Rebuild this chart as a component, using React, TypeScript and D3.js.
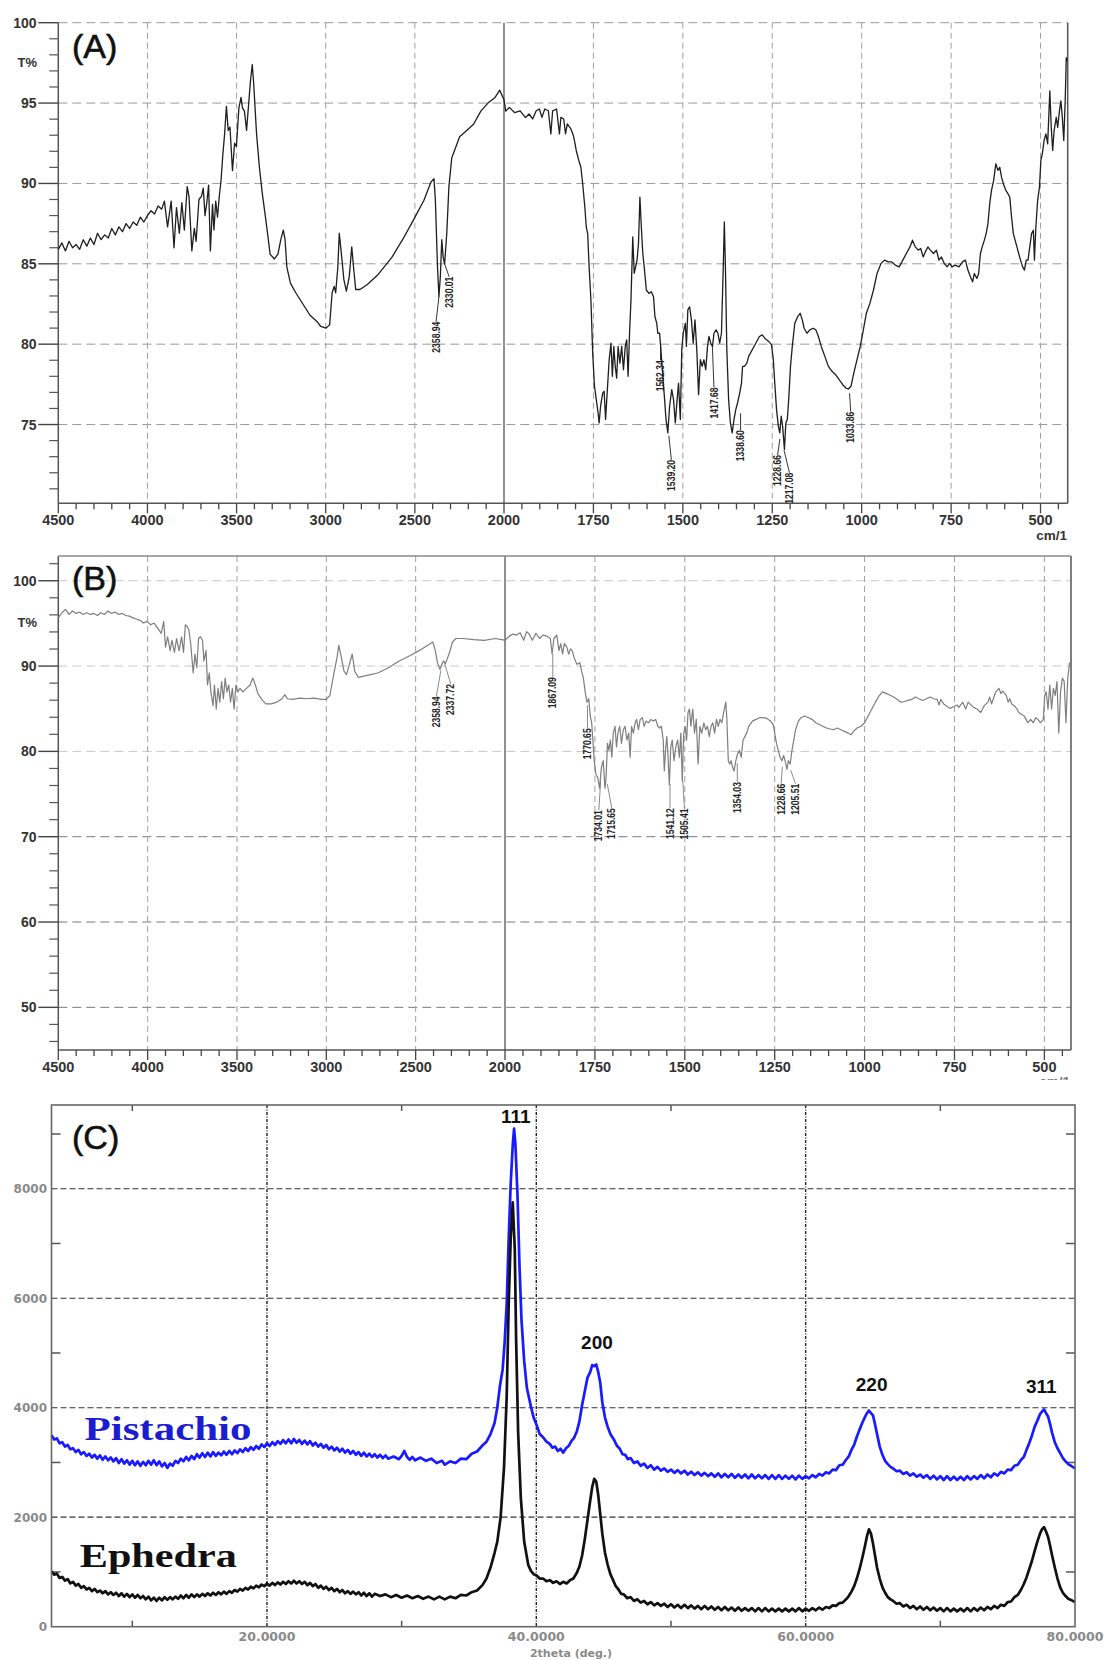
import React, { useEffect, useRef } from 'react';
import * as d3 from 'd3';

// ---------- data ----------

// FTIR (A): wavenumber (cm-1), transmittance (%)
const ftirA = [
  [4500, 85.9], [4480, 86.3], [4460, 85.8], [4440, 86.4], [4420, 86.0], [4400, 86.2], [4380, 85.9], [4360, 86.5],
  [4340, 86.1], [4320, 86.6], [4300, 86.2], [4280, 86.9], [4260, 86.5], [4240, 86.8], [4220, 86.6], [4200, 87.2],
  [4180, 86.8], [4160, 87.3], [4140, 87.0], [4120, 87.5], [4100, 87.2], [4080, 87.6], [4060, 87.4], [4040, 87.9],
  [4020, 87.6], [4000, 88.0], [3980, 88.3], [3960, 88.1], [3940, 88.6], [3920, 88.4], [3905, 88.9],
  [3887, 87.3], [3867, 88.9], [3851, 86.0], [3837, 88.5], [3821, 86.9], [3807, 88.8], [3793, 87.1], [3777, 89.8],
  [3767, 89.2], [3751, 85.8], [3737, 87.2], [3727, 86.4], [3711, 89.0], [3697, 89.2], [3687, 89.7], [3677, 88.0],
  [3667, 88.8], [3657, 89.9], [3647, 85.8], [3635, 88.7], [3627, 87.1], [3617, 88.9], [3607, 87.9], [3597, 89.2],
  [3587, 90.2], [3577, 91.8], [3567, 93.1], [3557, 94.8], [3547, 93.3], [3537, 93.5], [3523, 90.8], [3511, 92.5],
  [3501, 92.3], [3487, 94.7], [3475, 95.35], [3467, 94.7], [3456, 94.5], [3444, 93.3], [3434, 94.7], [3422, 96.4],
  [3412, 97.4], [3404, 96.2], [3388, 93.1], [3372, 91.0], [3356, 89.4], [3338, 87.9], [3324, 86.7], [3312, 85.6],
  [3288, 85.3], [3268, 85.6], [3252, 86.5], [3238, 87.1], [3228, 86.5], [3218, 84.8], [3198, 83.8], [3168, 83.2],
  [3128, 82.5], [3088, 81.8], [3048, 81.4], [3028, 81.1], [2998, 81.0], [2978, 81.2], [2964, 83.2], [2952, 83.6],
  [2944, 83.2], [2932, 84.8], [2924, 86.9], [2912, 85.6], [2898, 84.0], [2884, 83.3], [2868, 84.2], [2854, 86.05],
  [2844, 84.8], [2832, 83.4], [2808, 83.4], [2768, 83.7], [2709, 84.3], [2629, 85.4], [2569, 86.5], [2509, 87.7],
  [2449, 88.95], [2409, 90.1], [2393, 90.3], [2385, 89.0], [2373, 84.8], [2365, 82.95], [2357, 84.2], [2349, 86.5],
  [2341, 85.4], [2333, 85.0], [2321, 86.9], [2309, 89.8], [2293, 91.6], [2279, 92.0], [2249, 92.9], [2209, 93.3],
  [2170, 93.7], [2130, 94.5], [2090, 95.0], [2050, 95.35], [2024, 95.8], [2000, 95.2],
  [1995, 94.5], [1985, 94.73], [1970, 94.4], [1955, 94.52], [1940, 94.1], [1930, 94.32], [1920, 94.01], [1910, 94.52],
  [1901, 94.63], [1894, 94.11], [1886, 94.63], [1876, 94.52], [1869, 93.08], [1864, 94.52], [1853, 94.63], [1845, 93.08],
  [1841, 94.11], [1833, 94.01], [1828, 93.08], [1823, 93.7], [1813, 93.39], [1806, 92.98], [1803, 92.67], [1798, 92.05],
  [1791, 91.43], [1785, 91.01], [1780, 89.98], [1774, 88.53], [1770, 87.29], [1766, 86.88], [1762, 84.81], [1757, 82.75],
  [1752, 79.44], [1747, 77.38], [1742, 76.55], [1737, 75.72], [1734, 75.1], [1730, 76.14], [1724, 76.96], [1720, 77.07],
  [1716, 75.31], [1711, 77.17], [1706, 79.03], [1701, 80.06], [1697, 78.0], [1693, 79.86], [1689, 78.62], [1685, 77.89],
  [1681, 79.86], [1676, 78.82], [1671, 79.86], [1666, 78.41], [1661, 79.86], [1657, 80.27], [1653, 78.0], [1649, 80.68],
  [1645, 82.75], [1640, 86.67], [1636, 84.4], [1632, 84.81], [1628, 85.23], [1624, 86.26], [1620, 89.15], [1617, 87.71],
  [1612, 85.64], [1608, 84.81], [1602, 83.37], [1595, 83.16], [1588, 83.26], [1582, 82.95], [1578, 81.71], [1573, 81.3],
  [1570, 80.68], [1565, 80.68], [1562, 79.86], [1558, 78.62], [1551, 76.55], [1547, 75.31], [1542, 74.48], [1537, 76.14],
  [1531, 77.17], [1526, 76.55], [1521, 75.1], [1516, 76.55], [1512, 77.58], [1507, 75.31], [1503, 79.65], [1499, 80.68],
  [1493, 81.3], [1490, 79.86], [1486, 82.13], [1481, 82.33], [1476, 81.51], [1471, 80.06], [1466, 81.51], [1461, 79.65],
  [1456, 76.86], [1451, 79.03], [1446, 78.62], [1441, 79.03], [1436, 78.41], [1431, 79.86], [1427, 80.48], [1422, 80.06],
  [1417, 79.86], [1413, 80.68], [1407, 80.89], [1402, 80.68], [1397, 80.06], [1392, 80.68], [1387, 84.81], [1384, 87.6],
  [1381, 84.81], [1377, 79.65], [1372, 76.55], [1367, 75.1], [1362, 74.48], [1357, 75.31], [1352, 75.93], [1347, 76.34],
  [1341, 76.96], [1336, 77.58], [1333, 78.62], [1328, 78.62], [1321, 78.82], [1316, 79.24], [1306, 79.65], [1296, 80.06],
  [1286, 80.48], [1278, 80.58], [1271, 80.37], [1260, 80.17], [1252, 79.96], [1247, 79.03], [1243, 77.58], [1238, 75.93],
  [1233, 74.9], [1229, 74.48], [1225, 75.52], [1221, 74.9], [1216, 73.45], [1212, 75.1], [1208, 75.31], [1204, 76.55],
  [1199, 78.62], [1194, 79.86], [1187, 81.3], [1179, 81.71], [1172, 81.92], [1166, 81.51], [1161, 80.99], [1153, 80.68],
  [1145, 80.89], [1136, 80.99], [1128, 80.89], [1121, 80.48], [1113, 79.86], [1103, 79.24], [1093, 78.62], [1083, 78.31],
  [1073, 78.1], [1063, 77.79], [1053, 77.48], [1044, 77.27], [1037, 77.21], [1030, 77.38], [1022, 78.2], [1012, 79.13],
  [1004, 79.86], [997, 80.68], [987, 81.92], [977, 82.54], [967, 83.37], [957, 84.4], [946, 85.02], [936, 85.23],
  [926, 85.12], [916, 85.12], [906, 84.92], [895, 84.81], [885, 85.23], [875, 85.64], [865, 86.05], [858, 86.47],
  [850, 86.05], [842, 85.85], [835, 85.95], [828, 85.43], [822, 85.74], [815, 86.05], [808, 85.85], [799, 85.64],
  [791, 85.85], [784, 85.23], [777, 85.43], [769, 85.02], [761, 84.81], [754, 85.02], [747, 84.81], [739, 84.92],
  [728, 84.81], [718, 85.12], [710, 85.23], [703, 84.61], [696, 84.19], [690, 83.88], [685, 84.4], [678, 84.09],
  [673, 84.4], [668, 85.64], [663, 86.05], [657, 86.47], [652, 86.88], [647, 87.5], [642, 88.74], [637, 89.57],
  [631, 90.19], [625, 91.22], [619, 90.81], [614, 91.01], [609, 90.39], [604, 89.98], [597, 89.57], [591, 89.36],
  [586, 89.15], [581, 87.91], [576, 86.88], [571, 86.47], [566, 86.05], [561, 85.64], [556, 85.23], [550, 84.81],
  [545, 84.61], [540, 85.23], [535, 85.23], [530, 86.05], [525, 86.88], [520, 87.09], [517, 85.23], [513, 87.29],
  [508, 88.95], [503, 89.77], [499, 91.43], [495, 91.84], [490, 92.67], [485, 93.08], [480, 92.46], [474, 95.76],
  [470, 93.49], [466, 92.05], [462, 93.29], [456, 94.11], [452, 93.49], [447, 94.52], [443, 95.14], [439, 94.11],
  [435, 92.67], [431, 95.14], [428, 97.83], [425, 97.62],
];

// FTIR (B): wavenumber (cm-1), transmittance (%)
const ftirB = [
  [4500, 95.65], [4480, 96.25], [4460, 96.65], [4440, 96.05], [4421, 96.45], [4401, 96.17], [4381, 96.33], [4361, 96.05],
  [4341, 96.25], [4321, 96.05], [4301, 96.17], [4281, 95.93], [4262, 96.25], [4242, 96.05], [4222, 96.45], [4202, 96.17],
  [4182, 96.33], [4162, 96.05], [4142, 96.17], [4122, 95.93], [4103, 95.85], [4083, 95.65], [4063, 95.52], [4043, 95.36],
  [4023, 95.04], [4003, 95.24], [3983, 94.84], [3964, 95.04], [3944, 94.44], [3924, 93.83], [3910, 95.24], [3900, 92.22],
  [3888, 93.43], [3874, 91.81], [3864, 93.02], [3850, 91.61], [3838, 93.23], [3824, 91.81], [3810, 93.43], [3799, 91.61],
  [3789, 94.84], [3779, 94.64], [3769, 94.23], [3759, 92.62], [3745, 89.19], [3735, 91.41], [3725, 89.8], [3715, 93.23],
  [3705, 93.43], [3693, 93.02], [3685, 90.6], [3673, 91.81], [3665, 87.78], [3655, 89.19], [3646, 86.98], [3634, 85.36],
  [3626, 87.78], [3616, 84.96], [3606, 87.38], [3596, 85.77], [3586, 88.19], [3576, 86.17], [3566, 88.59], [3556, 86.98],
  [3546, 87.78], [3536, 85.77], [3526, 87.38], [3516, 84.96], [3506, 87.78], [3496, 86.98], [3483, 87.38], [3467, 86.98],
  [3447, 87.38], [3427, 87.78], [3411, 88.59], [3397, 87.78], [3383, 86.77], [3357, 85.97], [3338, 85.56], [3308, 85.56],
  [3278, 85.77], [3248, 86.17], [3232, 86.65], [3218, 86.17], [3189, 86.09], [3149, 86.25], [3109, 86.17], [3069, 86.25],
  [3030, 86.09], [3000, 86.09], [2980, 86.57], [2966, 88.19], [2955, 89.4], [2940, 91.01], [2930, 92.42], [2916, 91.01],
  [2901, 89.4], [2887, 88.99], [2871, 90.2], [2855, 91.41], [2841, 89.4], [2821, 88.67], [2771, 88.91], [2712, 89.19],
  [2652, 89.8], [2592, 90.6], [2533, 91.21], [2473, 91.9], [2434, 92.42], [2404, 92.82], [2390, 91.81], [2378, 90.4],
  [2364, 89.6], [2354, 90.2], [2344, 90.6], [2334, 90.28], [2324, 90.81], [2310, 91.61], [2294, 92.82], [2274, 93.23],
  [2235, 93.23], [2175, 93.1], [2115, 93.02], [2056, 93.23], [2016, 93.1], [2000, 93.02],
  [1988, 93.51], [1978, 93.75], [1968, 93.63], [1958, 93.91], [1948, 93.02], [1940, 94.03], [1934, 93.83], [1924, 93.02],
  [1914, 93.83], [1904, 93.23], [1894, 93.63], [1884, 93.51], [1874, 93.23], [1869, 91.41], [1864, 93.23], [1856, 93.63],
  [1850, 91.81], [1845, 92.62], [1840, 91.41], [1835, 92.62], [1828, 92.22], [1823, 91.41], [1818, 92.02], [1813, 91.81],
  [1808, 91.01], [1800, 90.2], [1792, 90.4], [1787, 89.4], [1782, 88.59], [1777, 86.98], [1772, 85.77], [1767, 86.17],
  [1763, 84.15], [1759, 83.35], [1755, 80.93], [1752, 78.91], [1747, 77.3], [1742, 76.9], [1737, 75.69], [1732, 78.1],
  [1727, 78.91], [1722, 75.69], [1719, 76.9], [1715, 80.93], [1711, 80.12], [1707, 81.33], [1703, 79.31], [1699, 82.14],
  [1694, 82.94], [1690, 80.52], [1686, 82.14], [1681, 82.94], [1676, 80.93], [1671, 82.54], [1666, 82.94], [1661, 81.33],
  [1656, 82.14], [1652, 79.31], [1648, 82.94], [1643, 82.14], [1638, 83.35], [1634, 83.75], [1629, 82.54], [1624, 83.75],
  [1618, 83.95], [1613, 82.94], [1608, 83.55], [1601, 83.35], [1594, 83.75], [1588, 83.55], [1581, 83.75], [1575, 82.94],
  [1570, 82.74], [1565, 82.94], [1560, 81.33], [1557, 77.7], [1553, 80.52], [1550, 81.73], [1547, 79.72], [1543, 76.09],
  [1539, 80.52], [1535, 81.33], [1530, 78.91], [1525, 80.52], [1520, 81.33], [1515, 79.31], [1511, 82.14], [1507, 76.49],
  [1503, 82.14], [1499, 82.94], [1495, 81.33], [1491, 84.56], [1487, 84.96], [1483, 82.94], [1478, 84.96], [1473, 82.14],
  [1468, 83.75], [1463, 78.51], [1458, 82.94], [1453, 82.14], [1447, 83.35], [1442, 82.54], [1437, 82.94], [1432, 81.73],
  [1427, 82.94], [1422, 83.35], [1417, 82.14], [1412, 83.75], [1407, 82.94], [1402, 83.75], [1397, 83.35], [1392, 84.56],
  [1386, 85.77], [1383, 83.75], [1379, 78.91], [1375, 78.51], [1371, 78.91], [1367, 78.1], [1363, 77.7], [1358, 78.91],
  [1353, 79.72], [1348, 80.12], [1343, 79.31], [1338, 81.33], [1333, 81.73], [1328, 82.14], [1322, 82.94], [1312, 83.55],
  [1302, 83.75], [1292, 83.95], [1282, 83.95], [1272, 83.87], [1262, 83.55], [1254, 83.15], [1250, 82.14], [1245, 80.93],
  [1240, 80.12], [1235, 79.31], [1230, 78.91], [1225, 79.52], [1220, 78.71], [1216, 77.9], [1212, 78.91], [1207, 78.51],
  [1202, 80.12], [1197, 81.33], [1192, 82.54], [1184, 83.55], [1177, 83.95], [1167, 84.15], [1156, 83.95], [1146, 83.75],
  [1136, 83.35], [1126, 83.15], [1116, 82.94], [1106, 82.74], [1096, 82.62], [1086, 82.54], [1076, 82.74], [1066, 82.54],
  [1056, 82.34], [1045, 82.14], [1038, 81.94], [1031, 82.34], [1021, 82.74], [1010, 82.94], [1000, 83.35], [990, 84.15],
  [980, 84.96], [970, 85.77], [960, 86.49], [950, 86.98], [939, 86.77], [929, 86.57], [919, 86.37], [909, 86.09],
  [899, 85.77], [889, 85.85], [879, 85.97], [869, 86.09], [859, 86.37], [849, 86.17], [838, 85.97], [828, 86.17],
  [818, 86.37], [808, 86.17], [798, 86.09], [793, 85.44], [788, 86.09], [780, 85.56], [773, 85.36], [763, 85.04],
  [753, 85.24], [743, 85.44], [738, 85.16], [727, 85.77], [719, 84.96], [712, 85.77], [707, 85.56], [697, 85.16],
  [687, 84.96], [677, 84.56], [672, 84.96], [667, 85.36], [657, 85.77], [652, 86.37], [647, 85.56], [642, 86.17],
  [635, 86.98], [626, 87.38], [621, 86.77], [616, 87.06], [606, 86.57], [601, 85.77], [596, 86.17], [591, 85.56],
  [584, 85.36], [576, 84.96], [571, 84.56], [564, 84.35], [556, 84.15], [551, 83.75], [546, 83.35], [538, 83.75],
  [531, 83.35], [524, 83.95], [518, 83.75], [511, 83.35], [503, 83.75], [499, 86.57], [495, 86.98], [490, 84.96],
  [485, 87.78], [480, 84.96], [475, 87.38], [470, 86.57], [465, 88.19], [460, 82.14], [455, 86.98], [450, 88.59],
  [445, 88.19], [440, 83.35], [435, 88.59], [430, 90.4],
];

// peak labels: label wavenumber, where the leader leaves the trace, where the text sits
const peaksA = [
  { label: '2358.94', wn: 2365, tLine: 82.95, labelWn: 2381, tText: 81.4 },
  { label: '2330.01', wn: 2333, tLine: 85.0, labelWn: 2308, tText: 84.2 },
  { label: '1562.34', wn: 1562.34, tLine: 79.9, labelWn: 1562.34, tText: 79.0 },
  { label: '1539.20', wn: 1539.2, tLine: 74.3, labelWn: 1532, tText: 72.8 },
  { label: '1417.68', wn: 1417.68, tLine: 80.0, labelWn: 1413, tText: 77.3 },
  { label: '1338.60', wn: 1338.6, tLine: 75.7, labelWn: 1338.6, tText: 74.65 },
  { label: '1228.66', wn: 1228.66, tLine: 74.1, labelWn: 1235, tText: 73.1 },
  { label: '1217.08', wn: 1217.08, tLine: 73.4, labelWn: 1202, tText: 72.0 },
  { label: '1033.86', wn: 1033.86, tLine: 76.95, labelWn: 1030.7, tText: 75.8 },
];

const peaksB = [
  { label: '2358.94', wn: 2358.94, tLine: 89.5, labelWn: 2384, tText: 86.45 },
  { label: '2337.72', wn: 2337.72, tLine: 90.3, labelWn: 2304, tText: 87.9 },
  { label: '1867.09', wn: 1867.09, tLine: 91.4, labelWn: 1867.09, tText: 88.7 },
  { label: '1770.65', wn: 1770.65, tLine: 85.4, labelWn: 1770.65, tText: 82.7 },
  { label: '1734.01', wn: 1734.01, tLine: 76.6, labelWn: 1739, tText: 73.1 },
  { label: '1715.65', wn: 1715.65, tLine: 76.2, labelWn: 1703, tText: 73.35 },
  { label: '1541.12', wn: 1541.12, tLine: 76.2, labelWn: 1541.12, tText: 73.35 },
  { label: '1505.41', wn: 1505.41, tLine: 76.5, labelWn: 1501, tText: 73.3 },
  { label: '1354.03', wn: 1354.03, tLine: 78.6, labelWn: 1354.03, tText: 76.4 },
  { label: '1228.66', wn: 1228.66, tLine: 78.2, labelWn: 1232, tText: 76.2 },
  { label: '1205.51', wn: 1205.51, tLine: 77.8, labelWn: 1192, tText: 76.2 },
];

const ftirMajorX = [4500, 4000, 3500, 3000, 2500, 2000, 1750, 1500, 1250, 1000, 750, 500];
const ftirYMajorA = [75, 80, 85, 90, 95, 100];
const ftirYMajorB = [50, 60, 70, 80, 90, 100];

// XRD (C): 2theta (deg), counts
const xrdPistachio = [
  [4.0, 3500], [4.2, 3420], [4.4, 3440], [4.6, 3350], [4.8, 3370], [5.0, 3290], [5.2, 3320], [5.4, 3240], [5.6, 3260],
  [5.8, 3190], [6.0, 3230], [6.2, 3150], [6.4, 3190], [6.6, 3120], [6.8, 3160], [7.0, 3090], [7.2, 3140], [7.4, 3070],
  [7.6, 3130], [7.8, 3050], [8.0, 3110], [8.2, 3040], [8.4, 3090], [8.6, 3020], [8.8, 3080], [9.0, 2990], [9.2, 3060],
  [9.4, 2980], [9.6, 3040], [9.8, 2960], [10.0, 3030], [10.2, 2950], [10.4, 3020], [10.6, 2940], [10.8, 3010],
  [11.0, 2950], [11.2, 3030], [11.4, 2960], [11.6, 3040], [11.8, 2950], [12.0, 3020], [12.2, 2930], [12.4, 2990],
  [12.6, 2900], [12.8, 2980], [13.0, 2940], [13.2, 3030], [13.4, 2990], [13.6, 3070], [13.8, 3020], [14.0, 3100],
  [14.2, 3040], [14.4, 3120], [14.6, 3060], [14.8, 3150], [15.0, 3090], [15.2, 3170], [15.4, 3100], [15.6, 3180],
  [15.8, 3110], [16.0, 3190], [16.2, 3120], [16.4, 3180], [16.6, 3130], [16.8, 3200], [17.0, 3140], [17.2, 3210],
  [17.4, 3150], [17.6, 3220], [17.8, 3170], [18.0, 3240], [18.2, 3190], [18.4, 3260], [18.6, 3210], [18.8, 3280],
  [19.0, 3230], [19.2, 3300], [19.4, 3250], [19.6, 3330], [19.8, 3280], [20.0, 3350], [20.2, 3300], [20.4, 3370],
  [20.6, 3320], [20.8, 3390], [21.0, 3340], [21.2, 3410], [21.4, 3350], [21.6, 3420], [21.8, 3350], [22.0, 3430],
  [22.2, 3360], [22.4, 3410], [22.6, 3340], [22.8, 3400], [23.0, 3330], [23.2, 3390], [23.4, 3310], [23.6, 3360],
  [23.8, 3290], [24.0, 3340], [24.2, 3270], [24.4, 3320], [24.6, 3240], [24.8, 3290], [25.0, 3220], [25.2, 3270],
  [25.4, 3200], [25.6, 3250], [25.8, 3180], [26.0, 3230], [26.2, 3160], [26.4, 3210], [26.6, 3140], [26.8, 3190],
  [27.0, 3120], [27.2, 3180], [27.4, 3110], [27.6, 3160], [27.8, 3100], [28.0, 3150], [28.2, 3090], [28.4, 3140],
  [28.6, 3080], [28.8, 3130], [29.0, 3070], [29.4, 3110], [29.8, 3060], [30.0, 3120], [30.2, 3210], [30.4, 3100],
  [30.6, 3050], [30.8, 3100], [31.0, 3040], [31.4, 3090], [31.8, 3030], [32.2, 3070], [32.6, 2990], [33.0, 3030],
  [33.2, 2960], [33.6, 3020], [34.0, 2990], [34.4, 3070], [34.8, 3060], [35.2, 3160], [35.6, 3200], [36.0, 3310],
  [36.3, 3380], [36.6, 3520], [36.9, 3720], [37.1, 4000], [37.3, 4400], [37.5, 4700], [37.65, 5200], [37.8, 5900],
  [37.95, 7100], [38.1, 8100], [38.25, 8800], [38.35, 9100], [38.45, 8800], [38.6, 7900], [38.75, 6600], [38.9, 5600],
  [39.1, 4850], [39.3, 4360], [39.6, 4020], [39.8, 3820], [40.0, 3700], [40.25, 3520], [40.5, 3460], [40.75, 3380],
  [41.0, 3340], [41.2, 3270], [41.4, 3290], [41.6, 3210], [41.8, 3250], [42.0, 3180], [42.2, 3260], [42.4, 3300],
  [42.6, 3390], [42.8, 3450], [43.0, 3560], [43.2, 3750], [43.4, 4050], [43.6, 4300], [43.8, 4550], [44.0, 4650],
  [44.15, 4780], [44.3, 4760], [44.45, 4790], [44.6, 4650], [44.75, 4450], [44.9, 4100], [45.1, 3820], [45.3, 3650],
  [45.5, 3520], [45.8, 3400], [46.0, 3300], [46.2, 3250], [46.4, 3150], [46.6, 3140], [46.8, 3060], [47.0, 3080],
  [47.25, 2990], [47.5, 3020], [47.75, 2940], [48.0, 2980], [48.25, 2900], [48.5, 2950], [48.75, 2870], [49.0, 2920],
  [49.25, 2850], [49.5, 2890], [49.75, 2830], [50.0, 2870], [50.25, 2810], [50.5, 2860], [50.75, 2800], [51.0, 2850],
  [51.25, 2780], [51.5, 2830], [51.75, 2770], [52.0, 2820], [52.25, 2760], [52.5, 2810], [52.75, 2750], [53.0, 2800],
  [53.25, 2740], [53.5, 2800], [53.75, 2730], [54.0, 2790], [54.25, 2730], [54.5, 2790], [54.75, 2720], [55.0, 2780],
  [55.25, 2720], [55.5, 2780], [55.75, 2710], [56.0, 2780], [56.25, 2710], [56.5, 2770], [56.75, 2710], [57.0, 2770],
  [57.25, 2700], [57.5, 2770], [57.75, 2700], [58.0, 2770], [58.25, 2700], [58.5, 2760], [58.75, 2700], [59.0, 2760],
  [59.25, 2690], [59.5, 2760], [59.75, 2700], [60.0, 2750], [60.25, 2710], [60.5, 2770], [60.75, 2730], [61.0, 2790],
  [61.25, 2760], [61.5, 2820], [61.75, 2800], [62.0, 2870], [62.25, 2860], [62.5, 2950], [62.75, 2960], [63.0, 3050],
  [63.2, 3110], [63.4, 3230], [63.6, 3320], [63.8, 3470], [64.0, 3600], [64.2, 3720], [64.4, 3830], [64.55, 3900],
  [64.7, 3950], [64.85, 3900], [65.0, 3860], [65.15, 3700], [65.3, 3520], [65.5, 3290], [65.7, 3140], [65.9, 3030],
  [66.1, 2970], [66.3, 2920], [66.5, 2890], [66.75, 2840], [67.0, 2850], [67.25, 2790], [67.5, 2820], [67.75, 2760],
  [68.0, 2800], [68.25, 2740], [68.5, 2780], [68.75, 2720], [69.0, 2770], [69.25, 2700], [69.5, 2760], [69.75, 2690],
  [70.0, 2750], [70.25, 2680], [70.5, 2750], [70.75, 2680], [71.0, 2740], [71.25, 2680], [71.5, 2740], [71.75, 2680],
  [72.0, 2750], [72.25, 2690], [72.5, 2750], [72.75, 2700], [73.0, 2770], [73.25, 2710], [73.5, 2780], [73.75, 2730],
  [74.0, 2800], [74.25, 2760], [74.5, 2830], [74.75, 2800], [75.0, 2870], [75.25, 2860], [75.5, 2940], [75.75, 2960],
  [76.0, 3050], [76.2, 3100], [76.4, 3230], [76.6, 3350], [76.8, 3490], [77.0, 3650], [77.2, 3760], [77.4, 3880],
  [77.55, 3930], [77.7, 3970], [77.85, 3900], [78.0, 3840], [78.15, 3700], [78.3, 3540], [78.5, 3370], [78.7, 3260],
  [78.9, 3170], [79.1, 3080], [79.3, 3020], [79.5, 2970], [79.7, 2940], [80.0, 2890],
];

const xrdEphedra = [
  [4.0, 1010], [4.2, 950], [4.4, 970], [4.6, 890], [4.8, 910], [5.0, 840], [5.2, 870], [5.4, 790], [5.6, 820],
  [5.8, 750], [6.0, 780], [6.2, 710], [6.4, 740], [6.6, 680], [6.8, 710], [7.0, 650], [7.2, 690], [7.4, 630],
  [7.6, 660], [7.8, 610], [8.0, 650], [8.2, 590], [8.4, 630], [8.6, 580], [8.8, 620], [9.0, 560], [9.2, 610],
  [9.4, 550], [9.6, 600], [9.8, 540], [10.0, 590], [10.2, 530], [10.4, 580], [10.6, 520], [10.8, 560], [11.0, 500],
  [11.2, 550], [11.4, 480], [11.6, 530], [11.8, 470], [12.0, 530], [12.2, 480], [12.4, 540], [12.6, 490], [12.8, 540],
  [13.0, 500], [13.2, 550], [13.4, 510], [13.6, 570], [13.8, 520], [14.0, 580], [14.2, 530], [14.4, 590], [14.6, 540],
  [14.8, 590], [15.0, 550], [15.2, 600], [15.4, 560], [15.6, 610], [15.8, 570], [16.0, 620], [16.2, 580], [16.4, 630],
  [16.6, 590], [16.8, 640], [17.0, 600], [17.2, 650], [17.4, 620], [17.6, 670], [17.8, 640], [18.0, 690], [18.2, 660],
  [18.4, 710], [18.6, 680], [18.8, 730], [19.0, 700], [19.2, 750], [19.4, 720], [19.6, 770], [19.8, 740], [20.0, 790],
  [20.2, 750], [20.4, 800], [20.6, 760], [20.8, 810], [21.0, 770], [21.2, 820], [21.4, 780], [21.6, 830], [21.8, 790],
  [22.0, 840], [22.2, 790], [22.4, 830], [22.6, 780], [22.8, 820], [23.0, 760], [23.2, 800], [23.4, 740], [23.6, 780],
  [23.8, 710], [24.0, 750], [24.2, 690], [24.4, 730], [24.6, 670], [24.8, 710], [25.0, 650], [25.2, 690], [25.4, 630],
  [25.6, 670], [25.8, 610], [26.0, 650], [26.2, 600], [26.4, 640], [26.6, 590], [26.8, 630], [27.0, 570], [27.2, 620],
  [27.4, 560], [27.6, 610], [27.8, 550], [28.0, 600], [28.4, 560], [28.8, 590], [29.2, 540], [29.6, 580], [30.0, 530],
  [30.4, 570], [30.8, 520], [31.2, 560], [31.6, 510], [32.0, 550], [32.4, 500], [32.8, 550], [33.2, 500], [33.6, 550],
  [34.0, 520], [34.4, 580], [34.8, 570], [35.2, 630], [35.6, 660], [36.0, 760], [36.3, 880], [36.6, 1080], [36.9, 1350],
  [37.1, 1550], [37.35, 2000], [37.6, 2900], [37.8, 4200], [37.95, 5900], [38.1, 7100], [38.25, 7750], [38.4, 6900],
  [38.5, 5250], [38.65, 3550], [38.85, 2350], [39.1, 1550], [39.4, 1130], [39.6, 1020], [39.8, 960], [40.0, 940],
  [40.25, 880], [40.5, 880], [40.75, 830], [41.0, 850], [41.25, 800], [41.5, 830], [41.75, 780], [42.0, 820],
  [42.25, 790], [42.5, 850], [42.75, 880], [43.0, 980], [43.2, 1100], [43.4, 1300], [43.6, 1600], [43.8, 1950],
  [44.0, 2300], [44.15, 2550], [44.3, 2700], [44.45, 2650], [44.6, 2400], [44.75, 2050], [44.9, 1700], [45.1, 1350],
  [45.3, 1130], [45.5, 960], [45.7, 850], [45.9, 740], [46.1, 680], [46.3, 600], [46.5, 590], [46.75, 520], [47.0, 540],
  [47.25, 470], [47.5, 500], [47.75, 440], [48.0, 470], [48.25, 410], [48.5, 450], [48.75, 390], [49.0, 430],
  [49.25, 380], [49.5, 420], [49.75, 360], [50.0, 410], [50.25, 350], [50.5, 400], [50.75, 340], [51.0, 400],
  [51.25, 340], [51.5, 390], [51.75, 330], [52.0, 380], [52.25, 320], [52.5, 380], [52.75, 320], [53.0, 370],
  [53.25, 310], [53.5, 360], [53.75, 300], [54.0, 360], [54.25, 300], [54.5, 350], [54.75, 290], [55.0, 350],
  [55.25, 290], [55.5, 340], [55.75, 290], [56.0, 340], [56.25, 280], [56.5, 340], [56.75, 280], [57.0, 340],
  [57.25, 280], [57.5, 330], [57.75, 280], [58.0, 330], [58.25, 280], [58.5, 330], [58.75, 280], [59.0, 330],
  [59.25, 280], [59.5, 340], [59.75, 280], [60.0, 330], [60.25, 290], [60.5, 340], [60.75, 300], [61.0, 350],
  [61.25, 310], [61.5, 360], [61.75, 340], [62.0, 390], [62.25, 380], [62.5, 430], [62.75, 440], [63.0, 500],
  [63.2, 560], [63.4, 640], [63.6, 740], [63.8, 880], [64.0, 1050], [64.2, 1250], [64.4, 1470], [64.55, 1650],
  [64.7, 1780], [64.85, 1700], [65.0, 1520], [65.15, 1300], [65.3, 1080], [65.5, 880], [65.7, 720], [65.9, 620],
  [66.1, 540], [66.3, 500], [66.5, 470], [66.75, 420], [67.0, 430], [67.25, 370], [67.5, 400], [67.75, 340],
  [68.0, 380], [68.25, 320], [68.5, 370], [68.75, 310], [69.0, 360], [69.25, 300], [69.5, 350], [69.75, 290],
  [70.0, 340], [70.25, 280], [70.5, 340], [70.75, 280], [71.0, 330], [71.25, 280], [71.5, 330], [71.75, 280],
  [72.0, 340], [72.25, 280], [72.5, 340], [72.75, 290], [73.0, 350], [73.25, 300], [73.5, 360], [73.75, 320],
  [74.0, 380], [74.25, 340], [74.5, 400], [74.75, 380], [75.0, 450], [75.25, 460], [75.5, 540], [75.75, 580],
  [76.0, 680], [76.2, 780], [76.4, 900], [76.6, 1050], [76.8, 1200], [77.0, 1380], [77.2, 1550], [77.4, 1700],
  [77.55, 1780], [77.7, 1820], [77.85, 1740], [78.0, 1640], [78.15, 1480], [78.3, 1300], [78.5, 1080], [78.7, 880],
  [78.9, 720], [79.1, 620], [79.3, 560], [79.5, 510], [79.7, 490], [80.0, 450],
];

const hklLabels = [
  { label: '111', theta: 38.48, count: 9210 },
  { label: '200', theta: 44.5, count: 5070 },
  { label: '220', theta: 64.9, count: 4310 },
  { label: '311', theta: 77.5, count: 4270 },
];

const xrdYTicks = [0, 2000, 4000, 6000, 8000];
const xrdXTicks = [20, 40, 60, 80];

const SANS = 'Liberation Sans, Arial, sans-serif';
const NARROW = 'Liberation Sans Narrow, Arial Narrow, Liberation Sans, sans-serif';
const SERIF = 'Liberation Serif, Times New Roman, serif';
const WIDE = 'DejaVu Sans, Verdana, sans-serif';

function drawFtir(svg, p) {
  const x = d3.scaleLinear().domain([4500, 2000, p.xEnd]).range([p.left, p.xBreak, p.right]);
  const y = d3.scaleLinear().domain([p.yMin, p.yMax]).range([p.bottom, p.top]);
  const g = svg.append('g');

  // grid
  g.append('g').selectAll('line').data(p.yMajor).join('line')
    .attr('x1', p.left).attr('x2', p.right)
    .attr('y1', d => y(d)).attr('y2', d => y(d))
    .attr('stroke', d => p.gridColor(d))
    .attr('stroke-width', 1)
    .attr('stroke-dasharray', '9,5');

  g.append('g').selectAll('line').data(ftirMajorX.filter(d => d !== 4500 && d !== 2000)).join('line')
    .attr('x1', d => x(d)).attr('x2', d => x(d))
    .attr('y1', p.top).attr('y2', p.bottom)
    .attr('stroke', '#a0a0a0')
    .attr('stroke-width', 1)
    .attr('stroke-dasharray', '6,4');

  g.append('line')
    .attr('x1', x(2000)).attr('x2', x(2000))
    .attr('y1', p.top).attr('y2', p.bottom)
    .attr('stroke', '#555').attr('stroke-width', 1.3);

  // frame
  const frame = g.append('g').attr('stroke', '#555').attr('stroke-width', 1.5).attr('fill', 'none');
  frame.append('line').attr('x1', p.left).attr('x2', p.left).attr('y1', p.top).attr('y2', p.bottom);
  frame.append('line').attr('x1', p.left).attr('x2', p.right).attr('y1', p.bottom).attr('y2', p.bottom);
  frame.append('line').attr('x1', p.right).attr('x2', p.right).attr('y1', p.top).attr('y2', p.bottom);
  if (p.topBorder) {
    frame.append('line').attr('x1', p.left).attr('x2', p.right).attr('y1', p.top).attr('y2', p.top)
      .attr('stroke', '#888');
  }

  // y ticks
  const yMinor = d3.range(p.yMinorStart, p.yMax, p.yMinorStep).filter(v => !p.yMajor.includes(v));
  g.append('g').selectAll('line').data(yMinor).join('line')
    .attr('x1', p.left - 9).attr('x2', p.left)
    .attr('y1', d => y(d)).attr('y2', d => y(d))
    .attr('stroke', '#555').attr('stroke-width', 1.2);
  g.append('g').selectAll('line').data(p.yMajor).join('line')
    .attr('x1', p.left - 20).attr('x2', p.left)
    .attr('y1', d => y(d)).attr('y2', d => y(d))
    .attr('stroke', '#444').attr('stroke-width', 1.4);
  g.append('g').selectAll('text').data(p.yMajor).join('text')
    .attr('x', 36.5).attr('y', d => y(d) + 5)
    .attr('text-anchor', 'end')
    .attr('font-family', SANS).attr('font-weight', 'bold').attr('font-size', 14)
    .attr('fill', '#333')
    .text(d => d);
  g.append('text')
    .attr('x', 37).attr('y', p.tLabelY)
    .attr('text-anchor', 'end')
    .attr('font-family', SANS).attr('font-weight', 'bold').attr('font-size', 13)
    .attr('fill', '#333')
    .text('T%');

  // x ticks
  const xMinor = d3.range(4400, 2000, -100).filter(v => v % 500 !== 0)
    .concat(d3.range(1950, p.xEnd, -50).filter(v => v % 250 !== 0));
  g.append('g').selectAll('line').data(xMinor).join('line')
    .attr('x1', d => x(d)).attr('x2', d => x(d))
    .attr('y1', p.bottom).attr('y2', p.bottom + 6)
    .attr('stroke', '#444').attr('stroke-width', 1.3);
  g.append('g').selectAll('line').data(ftirMajorX).join('line')
    .attr('x1', d => x(d)).attr('x2', d => x(d))
    .attr('y1', p.bottom).attr('y2', p.bottom + 10)
    .attr('stroke', '#444').attr('stroke-width', 1.3);
  g.append('g').selectAll('text').data(ftirMajorX).join('text')
    .attr('x', d => x(d)).attr('y', p.bottom + 22)
    .attr('text-anchor', 'middle')
    .attr('font-family', SANS).attr('font-weight', 'bold').attr('font-size', 14.5)
    .attr('fill', '#333')
    .text(d => d);

  // spectrum
  const line = d3.line().x(d => x(d[0])).y(d => y(d[1]));
  g.append('path')
    .attr('d', line(p.data))
    .attr('fill', 'none')
    .attr('stroke', p.stroke)
    .attr('stroke-width', p.strokeWidth)
    .attr('stroke-linejoin', 'round');

  // peak labels
  const pk = g.append('g');
  pk.selectAll('line').data(p.peaks).join('line')
    .attr('x1', d => x(d.wn)).attr('y1', d => y(d.tLine))
    .attr('x2', d => x(d.labelWn)).attr('y2', d => y(d.tText))
    .attr('stroke', p.stroke).attr('stroke-width', 0.9);
  pk.selectAll('text').data(p.peaks).join('text')
    .attr('transform', d => `translate(${x(d.labelWn) + 3.6},${y(d.tText)}) rotate(-90)`)
    .attr('text-anchor', 'end')
    .attr('font-family', NARROW).attr('font-weight', 'bold').attr('font-size', 10)
    .attr('textLength', 31).attr('lengthAdjust', 'spacingAndGlyphs')
    .attr('fill', '#222')
    .text(d => d.label);

  // panel tag
  g.append('text')
    .attr('x', 72).attr('y', p.tagY)
    .attr('font-family', SANS).attr('font-size', 34)
    .attr('fill', '#111').attr('stroke', '#111').attr('stroke-width', 0.6)
    .text(p.tag);
}

function drawXrd(svg) {
  const left = 51.5, right = 1075, top = 1105, bottom = 1626.7;
  const x = d3.scaleLinear().domain([4, 80]).range([left, right]);
  const y = d3.scaleLinear().domain([0, 9530]).range([bottom, top]);
  const g = svg.append('g');

  g.append('g').selectAll('line').data([2000, 4000, 6000, 8000]).join('line')
    .attr('x1', left).attr('x2', right)
    .attr('y1', d => y(d)).attr('y2', d => y(d))
    .attr('stroke', '#333').attr('stroke-width', 1.2)
    .attr('stroke-dasharray', '6,3');
  g.append('g').selectAll('line').data([20, 40, 60]).join('line')
    .attr('x1', d => x(d)).attr('x2', d => x(d))
    .attr('y1', top).attr('y2', bottom)
    .attr('stroke', '#222').attr('stroke-width', 1.4)
    .attr('stroke-dasharray', '3,1.5,1,1.5');

  // minor ticks on the frame, pointing inward
  const minorY = [1000, 3000, 5000, 7000, 9000];
  const minorX = [10, 30, 50, 70];
  const ticks = g.append('g').attr('stroke', '#555').attr('stroke-width', 1.5);
  ticks.selectAll('.tl').data(minorY).join('line')
    .attr('x1', left).attr('x2', left + 9).attr('y1', d => y(d)).attr('y2', d => y(d));
  ticks.selectAll('.tr').data(minorY).join('line')
    .attr('x1', right - 9).attr('x2', right).attr('y1', d => y(d)).attr('y2', d => y(d));
  ticks.selectAll('.tt').data(minorX).join('line')
    .attr('x1', d => x(d)).attr('x2', d => x(d)).attr('y1', top).attr('y2', top + 6);
  ticks.selectAll('.tb').data(minorX).join('line')
    .attr('x1', d => x(d)).attr('x2', d => x(d)).attr('y1', bottom - 6).attr('y2', bottom);

  const line = d3.line().x(d => x(d[0])).y(d => y(d[1]));
  g.append('path')
    .attr('d', line(xrdPistachio))
    .attr('fill', 'none').attr('stroke', '#1a1aff').attr('stroke-width', 2.7)
    .attr('stroke-linejoin', 'round');
  g.append('path')
    .attr('d', line(xrdEphedra))
    .attr('fill', 'none').attr('stroke', '#111').attr('stroke-width', 2.7)
    .attr('stroke-linejoin', 'round');

  g.append('rect')
    .attr('x', left).attr('y', top)
    .attr('width', right - left).attr('height', bottom - top)
    .attr('fill', 'none').attr('stroke', '#666').attr('stroke-width', 1.6);

  g.append('g').selectAll('text').data(xrdYTicks).join('text')
    .attr('x', 47).attr('y', d => y(d) + 4.5)
    .attr('text-anchor', 'end')
    .attr('font-family', WIDE).attr('font-weight', 'bold').attr('font-size', 12)
    .attr('fill', '#8a8a8a')
    .text(d => d);
  g.append('g').selectAll('text').data(xrdXTicks).join('text')
    .attr('x', d => x(d)).attr('y', bottom + 14)
    .attr('text-anchor', 'middle')
    .attr('font-family', WIDE).attr('font-weight', 'bold').attr('font-size', 12.5)
    .attr('fill', '#8a8a8a')
    .text(d => d3.format('.4f')(d));
  g.append('text')
    .attr('x', 571).attr('y', 1657)
    .attr('text-anchor', 'middle')
    .attr('font-family', WIDE).attr('font-weight', 'bold').attr('font-size', 11)
    .attr('fill', '#8a8a8a')
    .text('2theta (deg.)');

  g.append('g').selectAll('text').data(hklLabels).join('text')
    .attr('x', d => x(d.theta)).attr('y', d => y(d.count))
    .attr('text-anchor', 'middle')
    .attr('font-family', SANS).attr('font-weight', 'bold').attr('font-size', 19)
    .attr('fill', '#111')
    .text(d => d.label);

  g.append('text')
    .attr('x', x(6.45)).attr('y', y(3410))
    .attr('font-family', SERIF).attr('font-weight', 'bold').attr('font-size', 33)
    .attr('textLength', 167).attr('lengthAdjust', 'spacingAndGlyphs')
    .attr('fill', '#1c1cd2')
    .text('Pistachio');
  g.append('text')
    .attr('x', x(6.1)).attr('y', y(1096))
    .attr('font-family', SERIF).attr('font-weight', 'bold').attr('font-size', 34)
    .attr('textLength', 157).attr('lengthAdjust', 'spacingAndGlyphs')
    .attr('fill', '#111')
    .text('Ephedra');

  g.append('text')
    .attr('x', 72).attr('y', 1149)
    .attr('font-family', SANS).attr('font-size', 34)
    .attr('fill', '#111').attr('stroke', '#111').attr('stroke-width', 0.6)
    .text('(C)');
}

export default function App() {
  const ref = useRef(null);

  useEffect(() => {
    const svg = d3.select(ref.current);
    svg.selectAll('*').remove();

    svg.append('rect').attr('width', 1107).attr('height', 1660).attr('fill', '#fff');

    drawFtir(svg, {
      left: 58.3, right: 1067.7, top: 22.7, bottom: 503.3, xBreak: 504, xEnd: 424,
      yMin: 70.1, yMax: 100, yMajor: ftirYMajorA, yMinorStart: 71, yMinorStep: 1,
      gridColor: () => '#9a9a9a', data: ftirA, stroke: '#1e1e1e', strokeWidth: 1.3, peaks: peaksA,
      tag: '(A)', tagY: 58, tLabelY: 66.5, topBorder: false,
    });
    svg.append('text')
      .attr('x', 1067).attr('y', 539.5)
      .attr('text-anchor', 'end')
      .attr('font-family', SANS).attr('font-weight', 'bold').attr('font-size', 13.5)
      .attr('fill', '#333')
      .text('cm/1');

    drawFtir(svg, {
      left: 58.3, right: 1071, top: 556, bottom: 1050, xBreak: 505, xEnd: 426,
      yMin: 45, yMax: 102.9, yMajor: ftirYMajorB, yMinorStart: 46, yMinorStep: 2,
      gridColor: v => (v >= 80 ? '#c8c8c8' : '#7a7a7a'), data: ftirB, stroke: '#7e7e7e', strokeWidth: 1.2, peaks: peaksB,
      tag: '(B)', tagY: 590, tLabelY: 627, topBorder: true,
    });
    // axis unit of (B) is cut by the figure crop
    svg.append('clipPath').attr('id', 'cutB')
      .append('rect').attr('x', 0).attr('y', 0).attr('width', 1107).attr('height', 1080);
    svg.append('text')
      .attr('clip-path', 'url(#cutB)')
      .attr('x', 1070).attr('y', 1086)
      .attr('text-anchor', 'end')
      .attr('font-family', SANS).attr('font-weight', 'bold').attr('font-size', 13.5)
      .attr('fill', '#777')
      .text('cm/1');

    drawXrd(svg);
  }, []);

  return (
    <div style={{ position: 'absolute', left: 0, top: 0 }}>
      <svg ref={ref} width={1107} height={1660} style={{ display: 'block' }} />
    </div>
  );
}
